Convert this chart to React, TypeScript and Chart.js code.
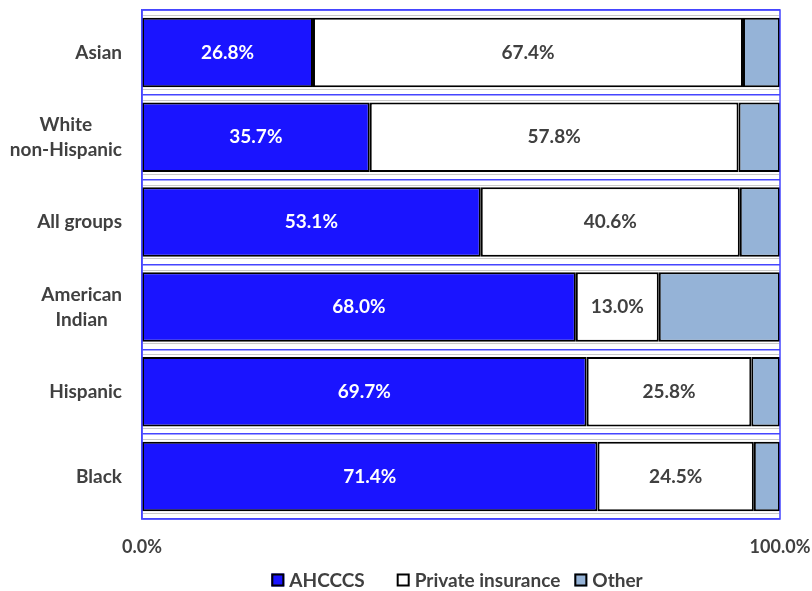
import React, { useEffect, useRef } from "react";
import { Chart, registerables } from "chart.js";

Chart.register(...registerables);

const categories: string[][] = [
  ["Asian"],
  ["White", "non-Hispanic"],
  ["All groups"],
  ["American", "Indian"],
  ["Hispanic"],
  ["Black"],
];
const ahcccs = [26.8, 35.7, 53.1, 68.0, 69.7, 71.4];
const privateIns = [67.4, 57.8, 40.6, 13.0, 25.8, 24.5];
const other = [5.8, 6.5, 6.3, 19.0, 4.5, 4.1];
const seriesNames = ["AHCCCS", "Private insurance", "Other"];
const seriesColors = ["#1a14ff", "#ffffff", "#95b3d7"];
const labelColors = ["#ffffff", "#404040", null];
const xTicks = [0, 100];

const FONT = "Lato, 'Open Sans', sans-serif";
const TEXT = "#404040";
const GRID = "#4545ff";

const decorPlugin = {
  id: "decor",
  beforeDatasetsDraw(chart: any) {
    const { ctx, chartArea } = chart;
    const meta = chart.getDatasetMeta(0);
    ctx.save();
    ctx.strokeStyle = "#c9c9c9";
    ctx.lineWidth = 1;
    meta.data.forEach((el: any) => {
      const h = el.height;
      const top = el.y - h / 2;
      const bot = el.y + h / 2;
      ctx.beginPath();
      ctx.moveTo(chartArea.left + 1, Math.round(top - 2.5) + 0.5);
      ctx.lineTo(chartArea.right - 1, Math.round(top - 2.5) + 0.5);
      ctx.moveTo(chartArea.left + 1, Math.round(bot + 1.5) + 0.5);
      ctx.lineTo(chartArea.right - 1, Math.round(bot + 1.5) + 0.5);
      ctx.stroke();
    });
    ctx.restore();
  },
  afterDraw(chart: any) {
    const { ctx, chartArea } = chart;
    const yScale = chart.scales.y;
    ctx.save();
    // plot border
    ctx.strokeStyle = GRID;
    ctx.lineWidth = 1.5;
    ctx.strokeRect(chartArea.left, chartArea.top, chartArea.right - chartArea.left, chartArea.bottom - chartArea.top);

    // category labels
    ctx.font = `bold 19px ${FONT}`;
    ctx.fillStyle = TEXT;
    ctx.textAlign = "center";
    ctx.textBaseline = "middle";
    const rightEdge = chartArea.left - 20;
    const lh = 25;
    categories.forEach((lines, i) => {
      const yc = yScale.getPixelForValue(i);
      const w = Math.max(...lines.map((l) => ctx.measureText(l).width));
      const xc = rightEdge - w / 2;
      lines.forEach((l, j) => {
        ctx.fillText(l, xc, yc + (j - (lines.length - 1) / 2) * lh);
      });
    });

    // data labels
    ctx.font = `bold 19px ${FONT}`;
    chart.data.datasets.forEach((ds: any, di: number) => {
      const col = labelColors[di];
      if (!col) return;
      const m = chart.getDatasetMeta(di);
      ctx.fillStyle = col;
      m.data.forEach((el: any, i: number) => {
        const v = ds.data[i];
        const xc = (el.x + el.base) / 2;
        ctx.fillText(v.toFixed(1) + "%", xc, el.y);
      });
    });

    // legend
    ctx.font = `bold 19px ${FONT}`;
    ctx.textAlign = "left";
    const box = 13;
    const gapBox = 5;
    const gaps = [32, 14];
    const widths = seriesNames.map((n) => box + gapBox + ctx.measureText(n).width);
    const total = widths.reduce((a, b) => a + b, 0) + gaps.reduce((a, b) => a + b, 0);
    let x = 457 - total / 2;
    const ly = chart.height - 11;
    seriesNames.forEach((n, i) => {
      ctx.fillStyle = seriesColors[i];
      ctx.fillRect(x, ly - box / 2, box, box);
      ctx.strokeStyle = "#000000";
      ctx.lineWidth = 2;
      ctx.strokeRect(x + 1, ly - box / 2 + 1, box - 2, box - 2);
      ctx.fillStyle = TEXT;
      ctx.fillText(n, x + box + gapBox, ly + 1);
      x += widths[i] + (gaps[i] || 0);
    });
    ctx.restore();
  },
};

export default function App() {
  const ref = useRef<HTMLCanvasElement | null>(null);
  useEffect(() => {
    document.body.style.margin = "0";
    const canvas = ref.current!;
    const series = [ahcccs, privateIns, other];
    const chart = new Chart(canvas, {
      type: "bar",
      data: {
        labels: categories.map((c) => c.join(" ")),
        datasets: series.map((d, i) => ({
          label: seriesNames[i],
          data: d,
          backgroundColor: seriesColors[i],
          borderColor: "#000000",
          borderWidth: 2,
          borderSkipped: false,
          barPercentage: 0.82,
          categoryPercentage: 1,
        })),
      },
      options: {
        indexAxis: "y",
        animation: false,
        responsive: false,
        maintainAspectRatio: false,
        layout: { padding: { left: 142, right: 32, top: 10, bottom: 35 } },
        plugins: { legend: { display: false }, tooltip: { enabled: false } },
        scales: {
          x: {
            stacked: true,
            min: 0,
            max: 100,
            afterBuildTicks: (s: any) => {
              s.ticks = xTicks.map((v) => ({ value: v }));
            },
            afterFit: (s: any) => {
              s.height = 37;
              s.paddingLeft = 0;
              s.paddingRight = 0;
            },
            grid: { display: false, drawTicks: false },
            border: { display: false },
            ticks: {
              padding: 17,
              color: TEXT,
              font: { family: FONT, size: 18, weight: "bold" },
              callback: (v: any) => Number(v).toFixed(1) + "%",
              maxRotation: 0,
            },
          },
          y: {
            stacked: true,
            grid: { offset: true, color: GRID, lineWidth: 1.5, drawTicks: false },
            border: { display: true, color: GRID, width: 1.5 },
            ticks: { display: false },
          },
        },
      },
      plugins: [decorPlugin],
    } as any);
    return () => chart.destroy();
  }, []);
  return (
    <div style={{ width: 812, height: 591 }}>
      <canvas ref={ref} width={812} height={591} style={{ display: "block", width: 812, height: 591 }} />
    </div>
  );
}
